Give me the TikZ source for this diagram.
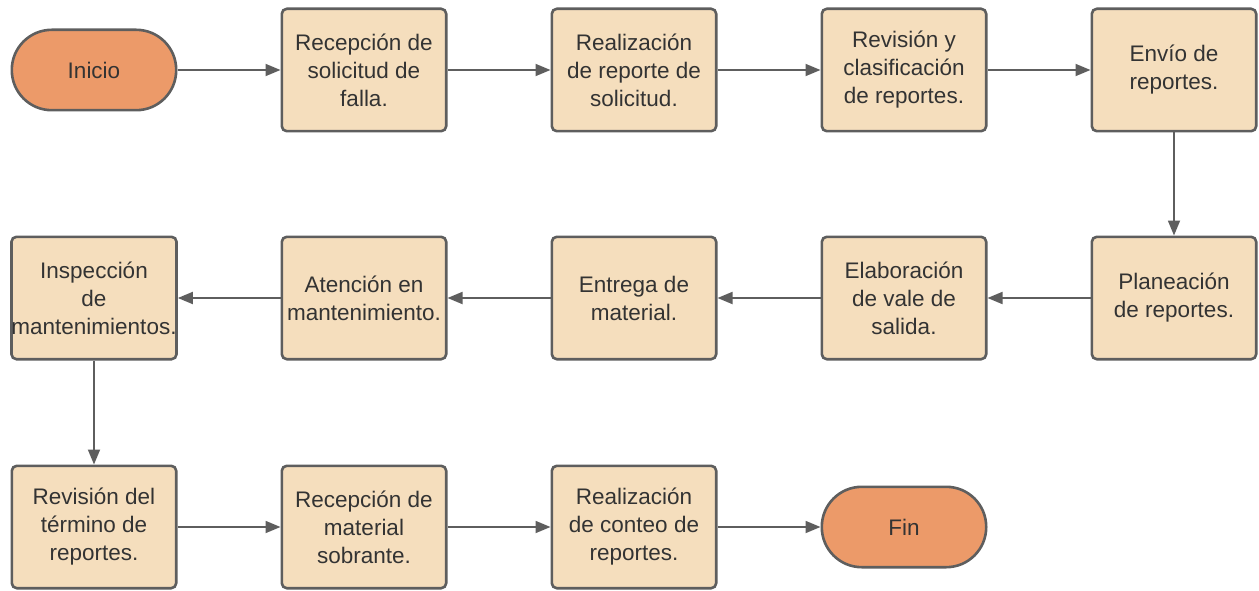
\documentclass[tikz,border=0pt]{standalone}
\usepackage{fontspec}
\setmainfont{Liberation Sans}
\usetikzlibrary{arrows.meta}
\definecolor{boxfill}{HTML}{F5DEBD}
\definecolor{termfill}{HTML}{EC9A69}
\definecolor{edgegray}{HTML}{5E5E5E}
\definecolor{txt}{HTML}{333333}
\begin{document}
\begin{tikzpicture}[x=1pt,y=-1pt,
  base/.style={draw=edgegray, line width=2.6pt, inner sep=0pt, align=center, text=txt,
    font=\fontsize{22.5}{28}\selectfont},
  proc/.style={base, fill=boxfill, rounded corners=5pt, minimum width=164.4pt, minimum height=122.4pt},
  term/.style={base, fill=termfill, rounded corners=40pt, minimum width=164.4pt, minimum height=80.4pt},
  conn/.style={draw=edgegray, line width=1.8pt, -{Triangle[length=15pt,width=12pt]}}]
\useasboundingbox (0,0) rectangle (1259,591);
% row 1
\node[term] (inicio) at (94,70) {Inicio};
\node[proc] (recep) at (364,70) {Recepción de\\solicitud de\\falla.};
\node[proc] (realiz) at (634,70) {Realización\\de reporte de\\solicitud.};
\node[proc] (revis) at (904,70) {Revisión y\\clasificación\\de reportes.};
\node[proc] (envio) at (1174,70) {Envío de\\reportes.};
% row 2
\node[proc] (plan) at (1174,298) {Planeación\\de reportes.};
\node[proc] (vale) at (904,298) {Elaboración\\de vale de\\salida.};
\node[proc] (entrega) at (634,298) {Entrega de\\material.};
\node[proc] (atenc) at (364,298) {Atención en\\mantenimiento.};
\node[proc] (inspec) at (94,298) {Inspección\\de\\mantenimientos.};
% row 3
\node[proc] (termino) at (94,527) {Revisión del\\término de\\reportes.};
\node[proc] (sobr) at (364,527) {Recepción de\\material\\sobrante.};
\node[proc] (conteo) at (634,527) {Realización\\de conteo de\\reportes.};
\node[term] (fin) at (904,527) {Fin};
% connectors
\draw[conn] (inicio) -- (recep);
\draw[conn] (recep) -- (realiz);
\draw[conn] (realiz) -- (revis);
\draw[conn] (revis) -- (envio);
\draw[conn] (envio) -- (plan);
\draw[conn] (plan) -- (vale);
\draw[conn] (vale) -- (entrega);
\draw[conn] (entrega) -- (atenc);
\draw[conn] (atenc) -- (inspec);
\draw[conn] (inspec) -- (termino);
\draw[conn] (termino) -- (sobr);
\draw[conn] (sobr) -- (conteo);
\draw[conn] (conteo) -- (fin);
\end{tikzpicture}
\end{document}
